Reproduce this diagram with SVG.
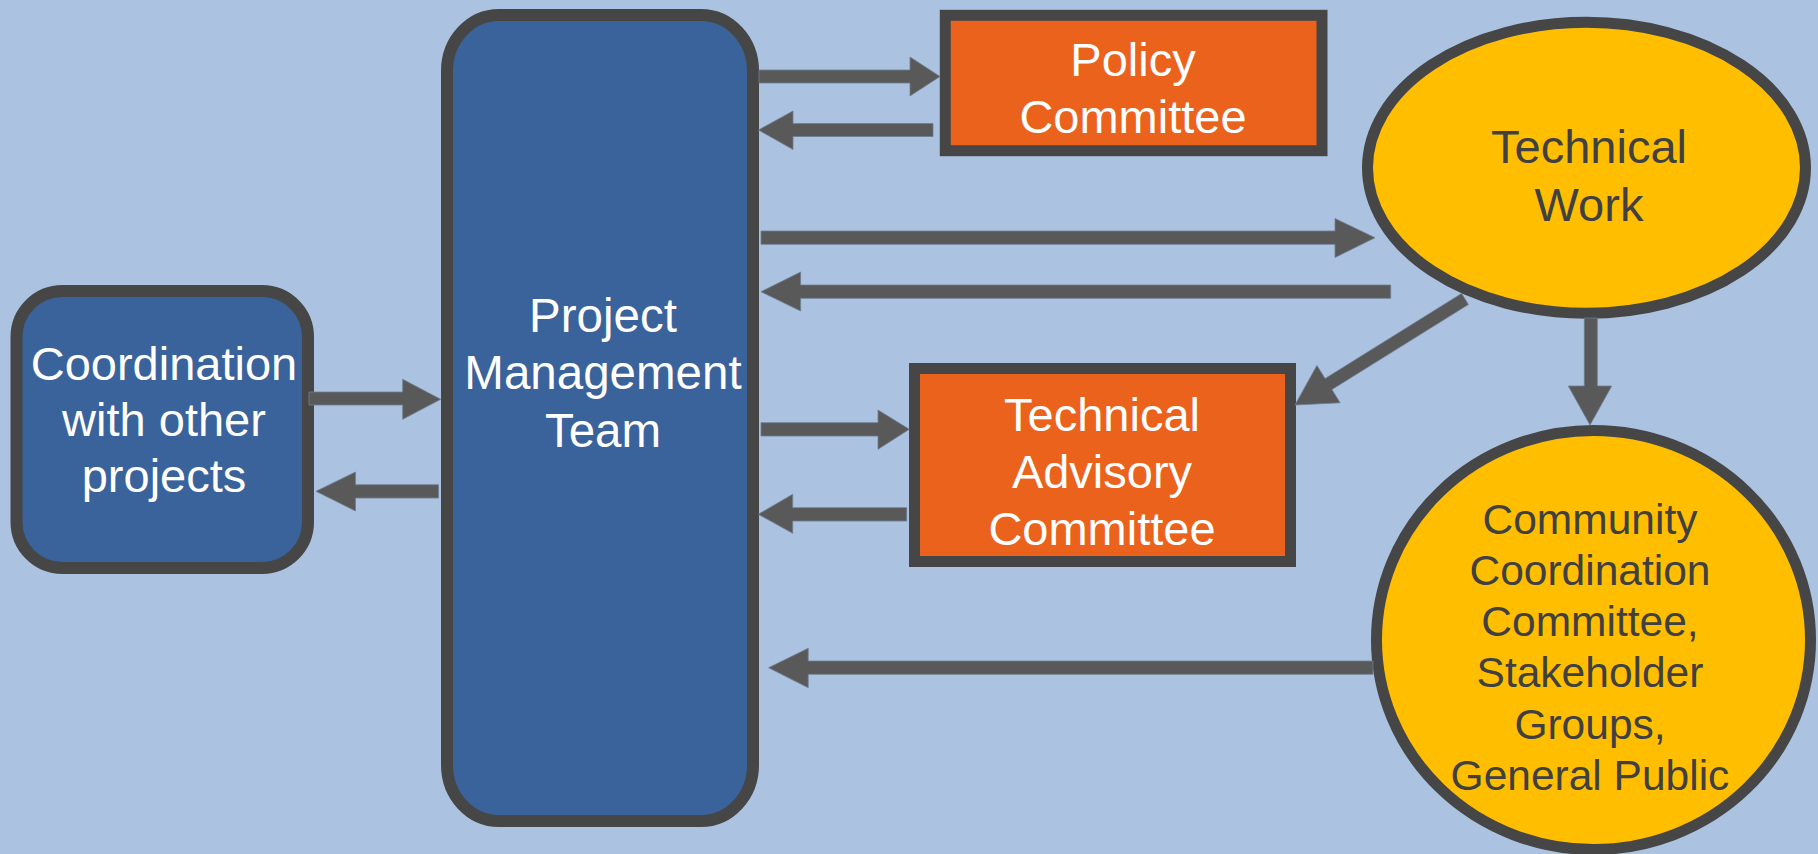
<svg xmlns="http://www.w3.org/2000/svg" width="1818" height="854" viewBox="0 0 1818 854">
<style>
.bg{fill:#abc2e0}
.blue{fill:#3a639b;stroke:#464646;stroke-width:12}
.orange{fill:#eb621d;stroke:#464646;stroke-width:11}
.yellow{fill:#ffbe00;stroke:#464646;stroke-width:11}
.arrow{fill:#595959;stroke:#6f7d90;stroke-width:0.8;stroke-linejoin:miter}
text{font-family:"Liberation Sans",Arial,sans-serif;text-anchor:middle}
.w{fill:#ffffff;font-size:47px}
.d{fill:#404040;font-size:47px}
.ds{fill:#404040;font-size:42.5px}
</style>
<rect class="bg" x="0" y="0" width="1818" height="854"/>
<g id="node-coordination">
<rect class="blue" x="16.5" y="291" width="291.5" height="277" rx="46" ry="46"/>
<text class="w" x="164" y="379.5">Coordination</text>
<text class="w" x="164" y="435.5">with other</text>
<text class="w" x="164" y="491.5">projects</text>
</g>
<g id="node-pmt">
<rect class="blue" x="447" y="15" width="306" height="806" rx="52" ry="56"/>
<text class="w" x="603" y="331.7" style="font-size:47.5px">Project</text>
<text class="w" x="603" y="389.3" style="font-size:47.5px">Management</text>
<text class="w" x="603" y="446.7" style="font-size:47.5px">Team</text>
</g>
<g id="node-policy">
<rect class="orange" x="945.3" y="15.3" width="376.7" height="135.4"/>
<text class="w" x="1133" y="76">Policy</text>
<text class="w" x="1133" y="133.3">Committee</text>
</g>
<g id="node-tac">
<rect class="orange" x="914.5" y="368.5" width="376" height="193"/>
<text class="w" x="1102" y="430.5">Technical</text>
<text class="w" x="1102" y="488">Advisory</text>
<text class="w" x="1102" y="544.7">Committee</text>
</g>
<g id="node-technical-work">
<ellipse class="yellow" cx="1586.5" cy="167.8" rx="219" ry="145.5"/>
<text class="d" x="1589" y="163.3">Technical</text>
<text class="d" x="1589" y="221">Work</text>
</g>
<g id="node-community">
<ellipse class="yellow" cx="1593.5" cy="640" rx="217" ry="209.5"/>
<text class="ds" x="1590" y="533.7">Community</text>
<text class="ds" x="1590" y="584.9">Coordination</text>
<text class="ds" x="1590" y="636.1">Committee,</text>
<text class="ds" x="1590" y="687.3">Stakeholder</text>
<text class="ds" x="1590" y="738.5">Groups,</text>
<text class="ds" x="1590" y="789.7">General Public</text>
</g>
<g id="connectors">
<path class="arrow" d="M759,70 L910,70 L910,57 L940,76.5 L910,96 L910,83 L759,83 Z"/>
<path class="arrow" d="M933,123.5 L793,123.5 L793,111 L758.5,130 L793,149.5 L793,136.5 L933,136.5 Z"/>
<path class="arrow" d="M761,231 L1335,231 L1335,218.5 L1375,237.7 L1335,257.5 L1335,244.3 L761,244.3 Z"/>
<path class="arrow" d="M1390.7,285 L800.6,285 L800.6,272 L761,291.7 L800.6,311 L800.6,298.3 L1390.7,298.3 Z"/>
<path class="arrow" d="M309,392 L402.7,392 L402.7,379.3 L440.7,399.3 L402.7,419.3 L402.7,405 L309,405 Z"/>
<path class="arrow" d="M438.5,484.7 L355.5,484.7 L355.5,472 L316,491.3 L355.5,511 L355.5,498 L438.5,498 Z"/>
<path class="arrow" d="M761,422.7 L878,422.7 L878,410 L909.3,429.3 L878,449.3 L878,436 L761,436 Z"/>
<path class="arrow" d="M906.7,507.7 L792.7,507.7 L792.7,494.3 L758.3,514.3 L792.7,533.3 L792.7,521 L906.7,521 Z"/>
<path class="arrow" d="M1461.6,293.5 L1325.1,378.6 L1316.9,365.4 L1295,405 L1340.1,402.8 L1331.9,389.6 L1468.4,304.5 Z"/>
<path class="arrow" d="M1584.3,318 L1584.3,386 L1568.3,386 L1590,425 L1611.7,386 L1597.3,386 L1597.3,318 Z"/>
<path class="arrow" d="M1373,661 L808.2,661 L808.2,648.3 L768.6,667.7 L808.2,687.7 L808.2,674.3 L1373,674.3 Z"/>
</g>
</svg>
